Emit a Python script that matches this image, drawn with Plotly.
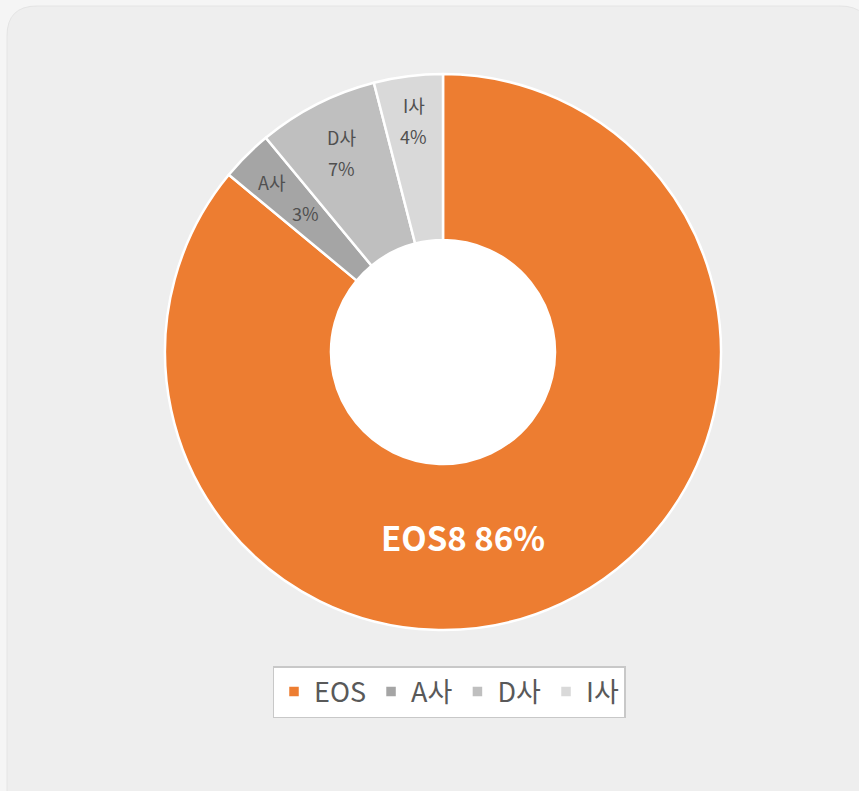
import math
import plotly.graph_objects as go

categories = ["EOS", "A사", "D사", "I사"]
values = [86, 3, 7, 4]
colors = ["#ED7D31", "#A5A5A5", "#BFBFBF", "#D9D9D9"]
main_label = "EOS8 86%"

W, H = 859, 791
cx, cy, R, r_in = 443, 352, 278, 112

fig = go.Figure()
fig.add_trace(go.Pie(
    labels=categories, values=values, sort=False, direction="clockwise", rotation=0,
    hole=r_in / R, marker=dict(colors=colors, line=dict(color="white", width=2.5)),
    textinfo="none", hoverinfo="label+percent",
    domain=dict(x=[(cx - R) / W, (cx + R) / W], y=[1 - (cy + R) / H, 1 - (cy - R) / H]),
))

# labels for small slices, positioned from data angles
total = sum(values)
x_shift = {"A사": 17}
label_r = {"A사": 218, "D사": 223, "I사": 233}
cum = 0
annotations = []
for cat, v in zip(categories, values):
    mid = (cum + v / 2) / total * 2 * math.pi
    cum += v
    if cat == categories[0]:
        continue
    rr = label_r.get(cat, 225)
    px = cx + rr * math.sin(mid)
    py = cy - rr * math.cos(mid)
    dx = x_shift.get(cat, 0)
    pct = f"{round(v / total * 100)}%"
    for txt, ox, oy in [(cat, -dx, -16), (pct, dx, 15)]:
        annotations.append(dict(x=(px + ox) / W, y=1 - (py + oy) / H, xref="paper", yref="paper",
                                xanchor="center", yanchor="middle",
                                text=txt, showarrow=False,
                                font=dict(size=18, color="#505050", family="Noto Sans CJK KR")))

annotations.append(dict(x=463 / W, y=1 - 537 / H, xref="paper", yref="paper",
                        xanchor="center", yanchor="middle",
                        text=f"<b>{main_label}</b>", showarrow=False,
                        font=dict(size=33, color="white", family="Noto Sans CJK KR")))


def px2paper(path):
    out = []
    for tok in path.split():
        if "," in tok:
            a, b = tok.split(",")
            out.append(f"{float(a)/W:.5f},{1-float(b)/H:.5f}")
        else:
            out.append(tok)
    return " ".join(out)


fig.update_layout(
    width=W, height=H, margin=dict(l=0, r=0, t=0, b=0),
    paper_bgcolor="#f5f5f5", plot_bgcolor="#f5f5f5",
    annotations=annotations,
    shapes=[
        dict(type="path", xref="paper", yref="paper",
             path=px2paper("M 37,6 L 840,6 Q 870,6 870,36 L 870,810 L 7,810 L 7,36 Q 7,6 37,6 Z"),
             fillcolor="#eeeeee", line=dict(color="#e4e4e4", width=1), layer="below"),
        dict(type="circle", xref="paper", yref="paper",
             x0=(cx - r_in) / W, x1=(cx + r_in) / W, y0=1 - (cy + r_in) / H, y1=1 - (cy - r_in) / H,
             fillcolor="white", line=dict(width=0), layer="below"),
    ],
    legend=dict(orientation="h", x=449 / W, xanchor="center", y=1 - 666 / H, yanchor="top",
                bgcolor="white", bordercolor="#c8c8c8", borderwidth=1.5,
                font=dict(size=27, color="#595959", family="Noto Sans CJK KR"),
                itemwidth=30, tracegroupgap=0),
)

fig.write_html("out.html", config={"displayModeBar": False},
               post_script="document.body.style.margin='0';document.body.style.background='#f5f5f5';document.body.style.overflow='hidden';")
